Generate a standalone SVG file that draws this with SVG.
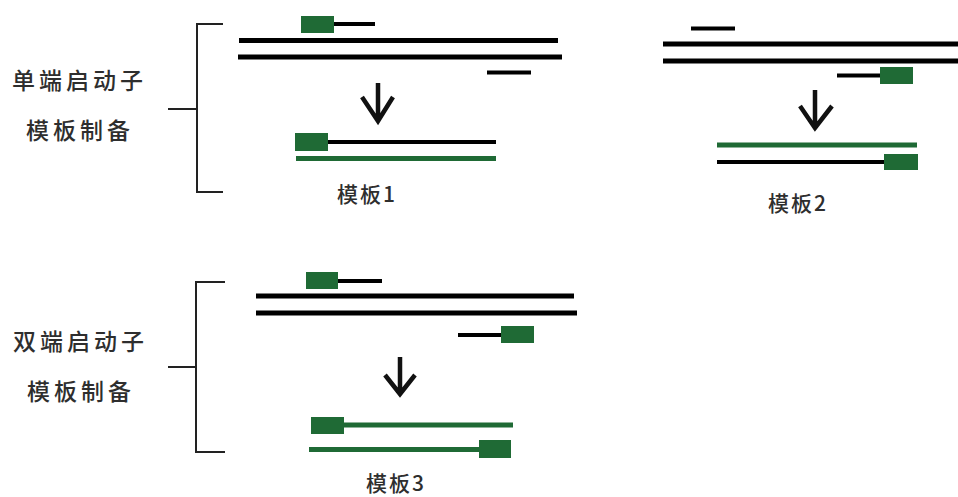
<svg xmlns="http://www.w3.org/2000/svg" width="958" height="497" viewBox="0 0 958 497">
<style>
.bk{stroke:#000;stroke-width:5;fill:none}
.sk{stroke:#000;stroke-width:4;fill:none}
.gl{stroke:#1f6a35;stroke-width:5;fill:none}
.gb{fill:#1f6a35}
.br{stroke:#222;stroke-width:2;fill:none}
.ar{stroke:#111;stroke-width:4.5;fill:none;stroke-linejoin:miter}
.lb{font-family:"Noto Sans CJK SC","Noto Sans",sans-serif;font-size:23px;font-weight:500;fill:#2e2e2e;letter-spacing:4px}
.tl{font-family:"Noto Sans CJK SC","Noto Sans",sans-serif;font-size:21px;font-weight:500;fill:#2e2e2e;letter-spacing:2px;text-anchor:middle}
</style>
<rect width="958" height="497" fill="#fff"/>
<g id="label1">
<text class="lb" x="12" y="89">单端启动子</text>
<text class="lb" x="26" y="139">模板制备</text>
</g>
<g id="bracket1"><path class="br" d="M223,24 H197 V192 H223 M168,109 H197"/></g>
<g id="label2">
<text class="lb" x="13" y="350">双端启动子</text>
<text class="lb" x="27" y="400">模板制备</text>
</g>
<g id="bracket2"><path class="br" d="M225,282 H196 V452 H225 M168,367 H196"/></g>

<g id="section1">
<rect class="gb" x="301" y="16" width="33" height="17"/>
<line class="sk" x1="334" y1="24" x2="375" y2="24"/>
<line class="bk" x1="239" y1="40.5" x2="558" y2="40.5"/>
<line class="bk" x1="238" y1="57" x2="562" y2="57"/>
<line class="sk" x1="487" y1="72.5" x2="531" y2="72.5"/>
</g>
<g id="template1">
<rect class="gb" x="295" y="133" width="33" height="18"/>
<line class="sk" x1="328" y1="142" x2="496" y2="142"/>
<line class="gl" x1="296" y1="158.5" x2="496" y2="158.5"/>
<text class="tl" x="367" y="202">模板1</text>
</g>

<g id="section2">
<line class="sk" x1="691" y1="28.5" x2="735" y2="28.5"/>
<line class="bk" x1="663" y1="44" x2="958" y2="44"/>
<line class="bk" x1="663" y1="61" x2="958" y2="61"/>
<line class="sk" x1="837" y1="75.5" x2="880" y2="75.5"/>
<rect class="gb" x="880" y="67" width="33" height="17"/>
</g>
<g id="template2">
<line class="gl" x1="717" y1="145" x2="917" y2="145"/>
<line class="sk" x1="717" y1="162" x2="884" y2="162"/>
<rect class="gb" x="884" y="154" width="34" height="16"/>
<text class="tl" x="798" y="211">模板2</text>
</g>

<g id="section3">
<rect class="gb" x="306" y="272" width="32" height="17"/>
<line class="sk" x1="338" y1="281" x2="382" y2="281"/>
<line class="bk" x1="256" y1="296" x2="574" y2="296"/>
<line class="bk" x1="256" y1="313" x2="577" y2="313"/>
<line class="sk" x1="458" y1="335" x2="501" y2="335"/>
<rect class="gb" x="501" y="326" width="33" height="17"/>
</g>
<g id="template3">
<rect class="gb" x="311" y="417" width="33" height="17"/>
<line class="gl" x1="344" y1="425" x2="513" y2="425"/>
<line class="gl" x1="309" y1="449.5" x2="479" y2="449.5"/>
<rect class="gb" x="479" y="440" width="32" height="18"/>
<text class="tl" x="396" y="491">模板3</text>
</g>

<g id="connectors">
<path class="ar" d="M378,83 V121 M362,97 L378,121 L393,97"/>
<path class="ar" d="M815,90 V128 M800,106 L815,128 L832,106"/>
<path class="ar" d="M400,357 V394 M385,375 L400,394 L415,375"/>
</g>
</svg>
